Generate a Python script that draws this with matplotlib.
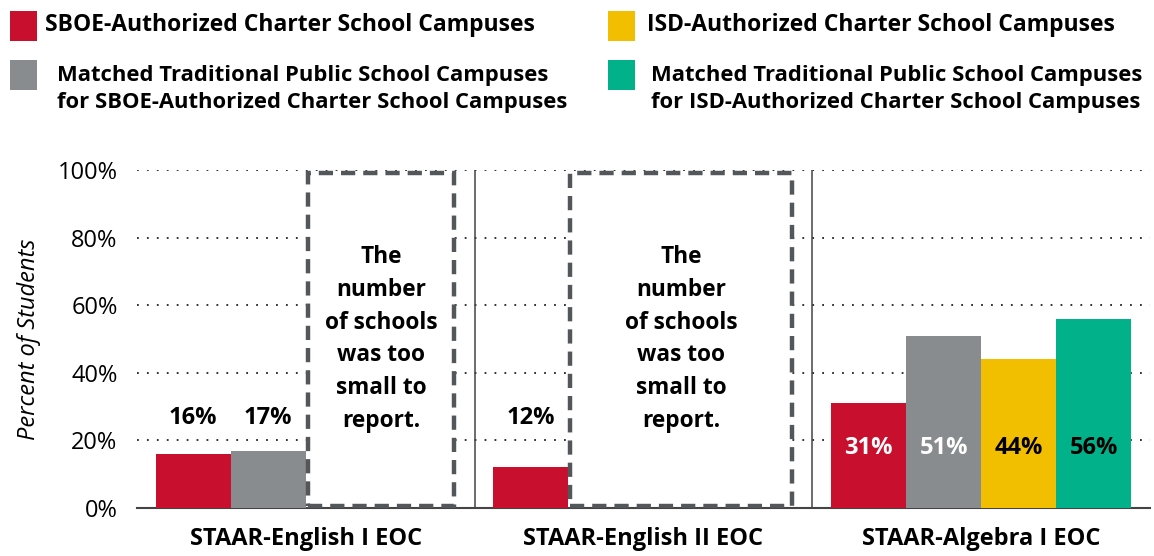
import matplotlib
matplotlib.use("Agg")
import matplotlib.pyplot as plt
from matplotlib.patches import Rectangle

# data
groups = ["STAAR-English I EOC", "STAAR-English II EOC", "STAAR-Algebra I EOC"]
sboe_charter = [16, 12, 31]
sboe_matched = [17, None, 51]
isd_charter = [None, None, 44]
isd_matched = [None, None, 56]
# first slot covered by the "too small" box in each group (None = no box)
box_start = [2, 1, None]
box_text = "The\nnumber\nof schools\nwas too\nsmall to\nreport."

RED = "#C8102E"
GRAY = "#898C8E"
YELLOW = "#F2BE00"
GREEN = "#00B189"
DARK = "#54575A"

plt.rcParams['font.family'] = ['Open Sans', 'DejaVu Sans']

fig = plt.figure(figsize=(11.54, 5.56), dpi=100)
ax = fig.add_axes([0.1187, 0.0863, 0.8778, 0.6079])

w = 0.2225
offsets = [-1.5 * w, -0.5 * w, 0.5 * w, 1.5 * w]
series = [(sboe_charter, RED, "white"), (sboe_matched, GRAY, "white"),
          (isd_charter, YELLOW, "black"), (isd_matched, GREEN, "black")]

for gi in range(len(groups)):
    inside = box_start[gi] is None
    for si, (vals, color, tcolor) in enumerate(series):
        v = vals[gi]
        if v is None:
            continue
        x = gi + offsets[si]
        ax.bar(x, v, width=w, color=color, zorder=3)
        if inside:
            ax.text(x, 17.8, f"{v}%", ha="center", va="center", color=tcolor,
                    fontsize=17, fontweight="bold", zorder=4)
        else:
            ax.text(x, 26.5, f"{v}%", ha="center", va="center", color="black",
                    fontsize=17, fontweight="bold", zorder=4)
    if box_start[gi] is not None:
        x0 = gi + offsets[box_start[gi]] - w / 2 + 0.006
        x1 = gi + offsets[3] + w / 2 - 0.006
        ax.add_patch(Rectangle((x0, 0.6), x1 - x0, 98.6, facecolor="white",
                               edgecolor=DARK, linewidth=3.2,
                               linestyle=(0, (3.2, 1.8)), zorder=3))
        ax.text((x0 + x1) / 2, 50, box_text, ha="center", va="center",
                fontsize=16.3, fontweight="bold", linespacing=1.49, zorder=4)

ax.set_xlim(-0.5, 2.5)
ax.set_ylim(0, 100)
ax.set_yticks(range(0, 101, 20))
ax.set_yticklabels([f"{t}%" for t in range(0, 101, 20)], fontsize=17)
ax.tick_params(axis="y", length=0, pad=14)
ax.set_xticks(range(len(groups)))
ax.set_xticklabels(groups, fontsize=17, fontweight="bold")
ax.tick_params(axis="x", length=0, pad=14)
for t in range(20, 101, 20):
    ax.axhline(t, color="#222222", linestyle=(0, (1, 4.5)), linewidth=1.3, zorder=1)
for sx in [0.5, 1.5]:
    ax.plot([sx, sx], [0, 100], color="#444444", linewidth=1.1, zorder=2)
for s in ["top", "right", "left"]:
    ax.spines[s].set_visible(False)
ax.spines["bottom"].set_color("#444444")
ax.spines["bottom"].set_linewidth(1.5)
ax.set_ylabel("Percent of Students", fontsize=17, fontstyle="italic", labelpad=12)

# legend drawn by hand at the top
def legend_item(x, y, color, tx, ty, text, size):
    fig.patches.append(Rectangle((x / 1154, 1 - (y + 30) / 556), 27 / 1154, 30 / 556,
                                 facecolor=color, transform=fig.transFigure, figure=fig))
    fig.text(tx / 1154, 1 - ty / 556, text, fontsize=size, fontweight="bold",
             va="center", ha="left", linespacing=1.42)

legend_item(10, 11, RED, 45, 25, "SBOE-Authorized Charter School Campuses", 16.5)
legend_item(608, 11, YELLOW, 647, 25, "ISD-Authorized Charter School Campuses", 16.5)
legend_item(10, 60, GRAY, 57, 89,
            "Matched Traditional Public School Campuses\nfor SBOE-Authorized Charter School Campuses", 15.8)
legend_item(608, 60, GREEN, 651, 89,
            "Matched Traditional Public School Campuses\nfor ISD-Authorized Charter School Campuses", 15.8)

fig.savefig("out.png", dpi=100)
